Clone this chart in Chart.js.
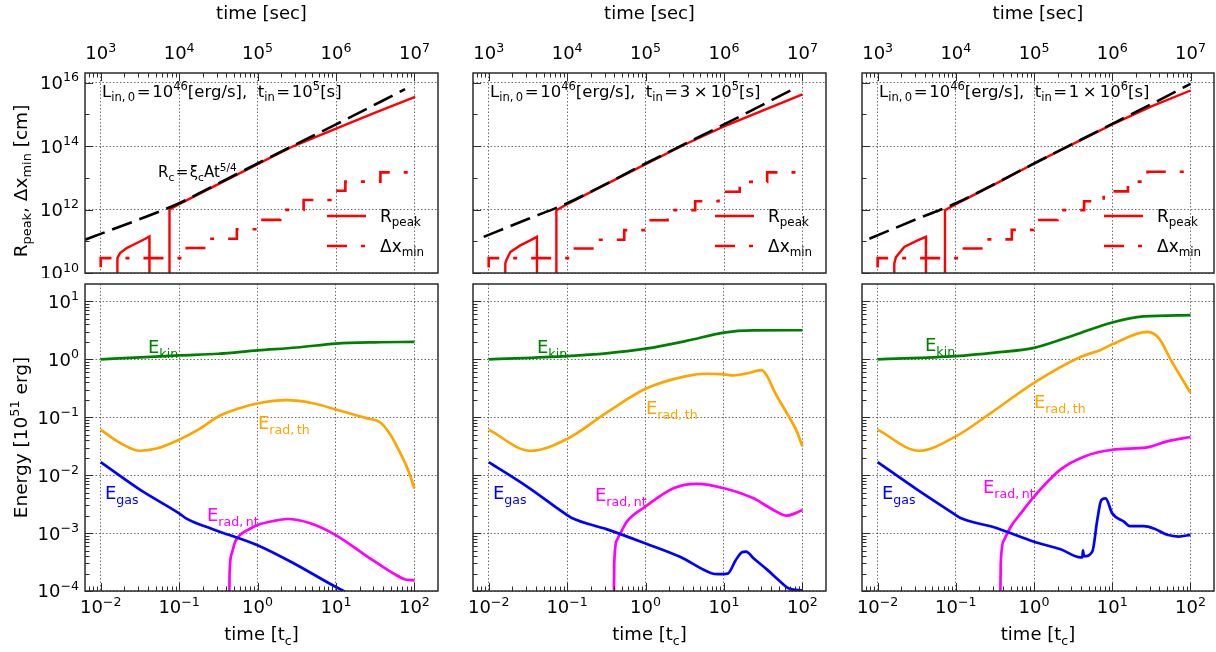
<!DOCTYPE html>
<html>
<head>
<meta charset="utf-8">
<script src="https://cdn.jsdelivr.net/npm/chart.js@4.4.1/dist/chart.umd.min.js"></script>
<style>
  html, body { margin: 0; padding: 0; background: #fff; }
  #page { position: relative; width: 1216px; height: 652px; overflow: hidden; }
  #page canvas { position: absolute; }
</style>
</head>
<body>
<div id="page"></div>
<script>
// Radius / energy evolution, three injection times (t_in = 1e5, 3e5, 1e6 s)

// ── tick label exponents ──
const secTicks = [3, 4, 5, 6, 7];        // time [sec], top axis
const tcTicks  = [-2, -1, 0, 1, 2];      // time [t_c], bottom axis
const rTicks   = [10, 12, 14, 16];       // R_peak, dx_min [cm]
const eTicks   = [-4, -3, -2, -1, 0, 1]; // Energy [1e51 erg]

// ── top row: radius vs time [sec] ──
// R_c = xi_c A t^(5/4)  (black dashed)
const tRc1 = [631, 3162, 10000, 31623, 1e5, 3.16e5, 1e6, 7.59e6];
const rc1  = [1.12e11, 5.01e11, 1.58e12, 6.61e12, 2.82e13, 1.17e14, 4.79e14, 6.17e15];
const tRc2 = [863, 3162, 10000, 1e5, 1e6, 7.31e6];
const rc2  = [1.37e11, 5.01e11, 1.58e12, 2.82e13, 4.79e14, 5.89e15];
const tRc3 = [783, 3162, 10000, 1e5, 1e6, 3.16e6, 1e7];
const rc3  = [1.2e11, 5.01e11, 1.58e12, 2.82e13, 5.01e14, 2.09e15, 9.12e15];

// R_peak (red solid)
const tPeak1 = [1622, 1633, 1766, 2148, 2612, 3508, 4178, 4188, 7516, 7534, 10000, 31623, 1e5, 2.88e5, 1e6, 3.16e6, 1.02e7];
const rPeak1 = [1e9, 2.95e10, 4.27e10, 6.1e10, 7.76e10, 1.12e11, 1.41e11, 1e9, 1e9, 1e12, 1.48e12, 6.31e12, 2.69e13, 1.0e14, 3.55e14, 1.12e15, 3.55e15];
const tPeak2 = [1622, 1629, 1679, 1888, 2529, 3388, 4121, 4130, 7278, 7295, 10000, 31623, 1e5, 3.16e5, 1e6, 3.16e6, 1e7];
const rPeak2 = [1e9, 2.0e10, 2.51e10, 4.57e10, 7.41e10, 1.07e11, 1.38e11, 1e9, 1e9, 9.55e11, 1.48e12, 6.31e12, 2.69e13, 1.12e14, 4.17e14, 1.32e15, 4.27e15];
const tPeak3 = [1622, 1633, 1714, 2188, 3236, 4140, 4150, 7244, 7261, 10000, 31623, 1e5, 3.16e5, 1e6, 3.16e6, 1e7];
const rPeak3 = [1e9, 2.0e10, 3.16e10, 6.61e10, 1.07e11, 1.38e11, 1e9, 1e9, 9.55e11, 1.48e12, 6.31e12, 2.82e13, 1.17e14, 4.79e14, 1.78e15, 5.62e15];

// dx_min (red dash-dot, step)
const tDx1 = [1000, 12531, 24378, 54450, 1e5, 194536, 386367, 847227, 1.315e6, 3.681e6, 6.622e6, 1.009e7];
const dx1  = [1.51e10, 2.95e10, 6.1e10, 1.2e11, 2.4e11, 4.73e11, 9.77e11, 2.0e12, 3.89e12, 7.59e12, 1.48e13, 1.48e13];
const tDx2 = [1000, 12106, 25177, 53456, 1e5, 190546, 429536, 851138, 1.585e6, 3.548e6, 6.637e6, 1e7];
const dx2  = [1.48e10, 2.95e10, 5.89e10, 1.12e11, 2.24e11, 4.57e11, 9.55e11, 1.82e12, 3.63e12, 7.41e12, 1.48e13, 1.48e13];
const tDx3 = [1000, 12162, 25119, 51880, 97724, 199526, 436516, 776247, 1.585e6, 2.818e6, 5.012e6, 1e7];
const dx3  = [1.48e10, 2.95e10, 5.89e10, 1.15e11, 2.29e11, 4.68e11, 9.55e11, 1.82e12, 3.72e12, 7.59e12, 1.55e13, 1.55e13];

// ── bottom row: energies vs time [t_c] ──
const tKin1 = [0.01, 0.0316, 0.1, 0.316, 1, 3.16, 10, 31.6, 100];
const eKin1 = [1.0, 1.08, 1.17, 1.25, 1.43, 1.6, 1.87, 1.97, 2.0];
const tTh1  = [0.01, 0.0178, 0.0316, 0.0513, 0.1, 0.178, 0.324, 0.603, 1, 2.34, 5.25, 10, 25.1, 36.8, 49.4, 66.2, 84.7, 100];
const eTh1  = [0.0611, 0.0359, 0.0264, 0.0288, 0.0410, 0.0617, 0.105, 0.145, 0.173, 0.197, 0.173, 0.136, 0.0955, 0.0813, 0.0501, 0.0240, 0.0115, 0.00589];
const tGas1 = [0.01, 0.0316, 0.1, 0.126, 0.269, 1, 2.88, 10, 100];
const eGas1 = [0.0168, 0.00562, 0.00219, 0.00176, 0.00117, 6.17e-4, 3.02e-4, 1.17e-4, 2.5e-5];
const tNt1  = [0.422, 0.44, 0.47, 0.519, 0.601, 0.767, 1, 1.6, 2.37, 4.7, 9.8, 24.9, 54.5, 76.7, 100];
const eNt1  = [1e-6, 2.0e-4, 4.47e-4, 7.08e-4, 9.33e-4, 1.15e-3, 1.38e-3, 1.62e-3, 1.75e-3, 1.48e-3, 9.33e-4, 3.98e-4, 2.0e-4, 1.58e-4, 1.53e-4];

const tKin2 = [0.01, 0.1, 0.316, 1, 3.31, 10, 23.4, 100];
const eKin2 = [1.0, 1.14, 1.27, 1.53, 2.08, 2.90, 3.16, 3.18];
const tTh2  = [0.01, 0.0339, 0.1, 0.316, 1, 3.31, 6.03, 10, 13.2, 19.5, 30.2, 35.5, 44.9, 63.1, 84.7, 100];
const eTh2  = [0.0611, 0.0264, 0.0421, 0.119, 0.310, 0.514, 0.564, 0.550, 0.528, 0.571, 0.653, 0.513, 0.264, 0.119, 0.0571, 0.0314];
const tGas2 = [0.01, 0.0309, 0.1, 0.115, 0.324, 1, 2.75, 6.76, 8.51, 11.2, 14.1, 17.0, 19.1, 24.0, 35.5, 52.5, 67.6, 100];
const eGas2 = [0.0168, 0.00635, 0.00205, 0.00182, 0.00116, 6.62e-4, 3.89e-4, 2.05e-4, 1.95e-4, 2.0e-4, 3.39e-4, 4.68e-4, 4.79e-4, 3.63e-4, 2.34e-4, 1.45e-4, 1.10e-4, 1.02e-4];
const tNt2  = [0.384, 0.399, 0.432, 0.501, 0.578, 1, 2.28, 4.51, 10, 23.8, 42.7, 63.1, 80.5, 100];
const eNt2  = [1e-6, 2.95e-4, 7.59e-4, 1.12e-3, 1.58e-3, 2.88e-3, 5.96e-3, 7.08e-3, 5.96e-3, 3.98e-3, 2.51e-3, 2.0e-3, 2.19e-3, 2.51e-3];

const tKin3 = [0.01, 0.1, 0.316, 1, 3.24, 10, 25.1, 100];
const eKin3 = [1.0, 1.14, 1.31, 1.58, 2.61, 4.33, 5.50, 5.79];
const tTh3  = [0.01, 0.0339, 0.1, 0.282, 1, 3.98, 7.08, 10, 28.2, 39.8, 55.6, 100];
const eTh3  = [0.0611, 0.0264, 0.0468, 0.119, 0.394, 1.11, 1.45, 1.82, 2.98, 2.28, 1.0, 0.264];
const tGas3 = [0.01, 0.0324, 0.1, 0.115, 0.308, 1, 2.19, 3.94, 4.14, 4.22, 4.35, 5.56, 6.44, 7.24, 8.22, 10, 14.1, 16.8, 25.4, 34.0, 50.4, 71.0, 100];
const eGas3 = [0.0168, 0.00557, 0.00205, 0.00182, 0.00126, 7.08e-4, 5.25e-4, 3.80e-4, 3.80e-4, 5.01e-4, 3.98e-4, 4.79e-4, 1.70e-3, 3.72e-3, 3.98e-3, 2.19e-3, 1.58e-3, 1.32e-3, 1.32e-3, 1.20e-3, 9.33e-4, 8.71e-4, 9.33e-4];
const tNt3  = [0.357, 0.375, 0.414, 0.504, 0.676, 1, 2.19, 4.35, 10, 28.0, 50.4, 100];
const eNt3  = [1e-6, 2.95e-4, 7.59e-4, 1.29e-3, 2.19e-3, 4.27e-3, 0.0126, 0.0209, 0.0275, 0.0302, 0.0384, 0.0457];

// ── look ──
const FONT    = '"DejaVu Sans", sans-serif';
const AXIS    = "#2b2b2b";
const GRID    = "rgba(60,60,60,0.75)";
const RED     = "#ff0000";
const GREEN   = "#008000";
const ORANGE  = "#ffa500";
const BLUE    = "#0000ff";
const MAGENTA = "#ff00ff";
const DASHDOT = [20, 14, 4, 14];

const COLS = [[85, 438], [473, 826], [862, 1214]];
const ROWS = [[73, 273], [284, 591]];

const tinText = [
    [["10", "n"], ["5", "sup"], ["[s]", "n"]],
    [["3\u2009\u00d7\u200910", "n"], ["5", "sup"], ["[s]", "n"]],
    [["1\u2009\u00d7\u200910", "n"], ["6", "sup"], ["[s]", "n"]]
];

// label positions (relative to the plot box): [kin, th, gas, nt]
const eLabelPos = [
    [[63, 63], [173, 139], [20, 209], [122, 231]],
    [[64, 63], [173, 124], [20, 209], [122, 211]],
    [[63, 61], [172, 118], [20, 209], [121, 203]]
];

function pts(xs, ys) { return xs.map(function (x, i) { return { x: x, y: ys[i] }; }); }

function lineDs(xs, ys, color, extra) {
    return Object.assign({
        data: pts(xs, ys), borderColor: color, borderWidth: 2.6,
        pointRadius: 0, fill: false, clip: 0, tension: 0
    }, extra || {});
}

// rich text with sub/superscripts; parts = [[text, 'n'|'sub'|'sup'], ...]
function drawRich(ctx, parts, x, y, size, align) {
    const small = size * 0.7;
    let w = 0;
    parts.forEach(function (p) {
        ctx.font = (p[1] === "n" ? size : small) + "px " + FONT;
        w += ctx.measureText(p[0]).width;
    });
    let cx = align === "center" ? x - w / 2 : align === "right" ? x - w : x;
    const base = y + size * 0.36;
    ctx.textAlign = "left";
    ctx.textBaseline = "alphabetic";
    parts.forEach(function (p) {
        const sz = p[1] === "n" ? size : small;
        ctx.font = sz + "px " + FONT;
        const dy = p[1] === "sup" ? -size * 0.42 : p[1] === "sub" ? size * 0.24 : 0;
        ctx.fillText(p[0], cx, base + dy);
        cx += ctx.measureText(p[0]).width;
    });
    return w;
}

function powLabel(e) { return [["10", "n"], [(e < 0 ? "\u2212" : "") + Math.abs(e), "sup"]]; }

// tick positions: majors at 10^e, minors either 2..9 x 10^e or the skipped decades
function logTicks(min, max, exps, decadeStep) {
    const out = [];
    exps.forEach(function (e) { out.push({ v: Math.pow(10, e), major: true }); });
    const lo = Math.floor(Math.log10(min)), hi = Math.ceil(Math.log10(max));
    for (let e = lo; e <= hi; e++) {
        if (decadeStep === 1) {
            for (let m = 2; m <= 9; m++) {
                const v = m * Math.pow(10, e);
                if (v > min && v < max) out.push({ v: v, major: false });
            }
        } else if (exps.indexOf(e) < 0) {
            const v = Math.pow(10, e);
            if (v > min && v < max) out.push({ v: v, major: false });
        }
    }
    return out;
}

function seg(ctx, x1, y1, x2, y2) { ctx.beginPath(); ctx.moveTo(x1, y1); ctx.lineTo(x2, y2); ctx.stroke(); }

function decoPlugin(cfg) {
    return {
        id: "deco",
        afterDatasetsDraw: function (chart) {
            const ctx = chart.ctx, a = chart.chartArea;
            const xs = chart.scales.x, ys = chart.scales.y;
            ctx.save();

            // ── inward ticks ──
            ctx.strokeStyle = AXIS;
            ctx.lineWidth = 1;
            const xe = cfg.top ? a.top : a.bottom, dir = cfg.top ? 1 : -1;
            logTicks(xs.min, xs.max, cfg.xExps, 1).forEach(function (t) {
                const p = Math.round(xs.getPixelForValue(t.v)) + 0.5;
                seg(ctx, p, xe, p, xe + dir * (t.major ? 8 : 4.5));
            });
            logTicks(ys.min, ys.max, cfg.yExps, cfg.top ? 2 : 1).forEach(function (t) {
                const p = Math.round(ys.getPixelForValue(t.v)) + 0.5;
                seg(ctx, a.left, p, a.left + (t.major ? 8 : 4.5), p);
            });

            // ── frame ──
            ctx.lineWidth = 1.5;
            ctx.strokeRect(a.left, a.top, a.right - a.left, a.bottom - a.top);

            // ── tick labels & axis titles ──
            ctx.fillStyle = "#000";
            cfg.xExps.forEach(function (e) {
                const p = xs.getPixelForValue(Math.pow(10, e));
                drawRich(ctx, powLabel(e), p, cfg.top ? a.top - 20 : a.bottom + 16, 18, "center");
            });
            const mid = (a.left + a.right) / 2;
            if (cfg.top) {
                drawRich(ctx, [["time [sec]", "n"]], mid, a.top - 60, 18, "center");
            } else {
                drawRich(ctx, [["time [t", "n"], ["c", "sub"], ["]", "n"]], mid, a.bottom + 43, 18, "center");
            }
            if (cfg.yLabels) {
                cfg.yExps.forEach(function (e) {
                    const p = ys.getPixelForValue(Math.pow(10, e));
                    drawRich(ctx, powLabel(e), a.left - 6, p, 18, "right");
                });
                ctx.save();
                ctx.translate(20, cfg.top ? (a.top + a.bottom) / 2 + 8 : (a.top + a.bottom) / 2);
                ctx.rotate(-Math.PI / 2);
                drawRich(ctx, cfg.yTitle, 0, 0, 18.5, "center");
                ctx.restore();
            }

            // ── in-panel texts ──
            (cfg.texts || []).forEach(function (t) {
                ctx.fillStyle = t.color || "#000";
                drawRich(ctx, t.parts, a.left + t.x, a.top + t.y, t.size || 18, "left");
            });

            // ── legend (top row) ──
            if (cfg.legend) {
                ctx.strokeStyle = RED;
                ctx.lineWidth = 2.6;
                ctx.lineCap = "butt";
                seg(ctx, a.left + 242, a.top + 143, a.left + 281, a.top + 143);
                ctx.setLineDash(DASHDOT);
                seg(ctx, a.left + 242, a.top + 173, a.left + 281, a.top + 173);
                ctx.setLineDash([]);
                ctx.fillStyle = "#000";
                drawRich(ctx, [["R", "n"], ["peak", "sub"]], a.left + 295, a.top + 143, 17, "left");
                drawRich(ctx, [["\u0394x", "n"], ["min", "sub"]], a.left + 295, a.top + 173, 17, "left");
            }
            ctx.restore();
        }
    };
}

function makeChart(row, col, datasets, cfg, xRange, yRange) {
    const box = COLS[col], rw = ROWS[row];
    const left = col === 0 ? 0 : box[0] - 12;
    const right = col === 2 ? 1216 : box[1] + 2;
    const top = row === 0 ? 0 : 280;
    const bottom = row === 0 ? 278 : 652;

    const canvas = document.createElement("canvas");
    canvas.width = right - left;
    canvas.height = bottom - top;
    canvas.style.left = left + "px";
    canvas.style.top = top + "px";
    document.getElementById("page").appendChild(canvas);

    function axis(min, max, exps, isX) {
        return {
            type: "logarithmic", min: min, max: max,
            ticks: { display: false },
            grid: { color: GRID, lineWidth: 1, drawTicks: false },
            border: { display: false, dash: [1.5, 2] },
            afterBuildTicks: function (s) { s.ticks = exps.map(function (e) { return { value: Math.pow(10, e) }; }); },
            afterFit: function (s) { if (isX) s.height = 0; else s.width = 0; }
        };
    }

    return new Chart(canvas, {
        type: "line",
        data: { datasets: datasets },
        options: {
            responsive: false, animation: false, devicePixelRatio: 1, events: [],
            layout: { padding: { left: box[0] - left, right: right - box[1], top: rw[0] - top, bottom: bottom - rw[1] } },
            plugins: { legend: { display: false }, tooltip: { enabled: false } },
            scales: {
                x: axis(xRange[0], xRange[1], cfg.xExps, true),
                y: axis(yRange[0], yRange[1], cfg.gridY || cfg.yExps, false)
            }
        },
        plugins: [decoPlugin(cfg)]
    });
}

// ── BUILD ──
const topSets = [
    [tRc1, rc1, tPeak1, rPeak1, tDx1, dx1],
    [tRc2, rc2, tPeak2, rPeak2, tDx2, dx2],
    [tRc3, rc3, tPeak3, rPeak3, tDx3, dx3]
];
const botSets = [
    [tKin1, eKin1, tTh1, eTh1, tGas1, eGas1, tNt1, eNt1],
    [tKin2, eKin2, tTh2, eTh2, tGas2, eGas2, tNt2, eNt2],
    [tKin3, eKin3, tTh3, eTh3, tGas3, eGas3, tNt3, eNt3]
];

for (let c = 0; c < 3; c++) {
    const s = topSets[c];
    const texts = [{
        parts: [["L", "n"], ["in,\u20090", "sub"], ["\u200a=\u200a10", "n"], ["46", "sup"], ["[erg/s],  t", "n"], ["in", "sub"], ["\u200a=\u200a", "n"]].concat(tinText[c]),
        x: 17, y: 18, size: 16.5
    }];
    if (c === 0) {
        texts.push({ parts: [["R", "n"], ["c", "sub"], ["\u200a=\u200a\u03be", "n"], ["c", "sub"], ["At", "n"], ["5/4", "sup"]], x: 73, y: 99, size: 15 });
    }
    makeChart(0, c, [
        lineDs(s[0], s[1], "#000", { borderDash: [21, 8], borderWidth: 2.6, cubicInterpolationMode: "monotone" }),
        lineDs(s[2], s[3], RED, { borderWidth: 2.4 }),
        lineDs(s[4], s[5], RED, { borderWidth: 2.6, stepped: "after", borderDash: DASHDOT })
    ], {
        top: true, xExps: secTicks, yExps: rTicks, yLabels: c === 0, legend: true, texts: texts,
        yTitle: [["R", "n"], ["peak", "sub"], [", \u0394x", "n"], ["min", "sub"], [" [cm]", "n"]]
    }, [631, 1.995e7], [1e10, 2.0e16]);

    const b = botSets[c], pos = eLabelPos[c];
    const smooth = { cubicInterpolationMode: "monotone", borderWidth: 2.7 };
    makeChart(1, c, [
        lineDs(b[0], b[1], GREEN, smooth),
        lineDs(b[2], b[3], ORANGE, smooth),
        lineDs(b[4], b[5], BLUE, smooth),
        lineDs(b[6], b[7], MAGENTA, smooth)
    ], {
        top: false, xExps: tcTicks, yExps: eTicks, yLabels: c === 0,
        yTitle: [["Energy [10", "n"], ["51", "sup"], [" erg]", "n"]],
        texts: [
            { parts: [["E", "n"], ["kin", "sub"]], color: GREEN, x: pos[0][0], y: pos[0][1] },
            { parts: [["E", "n"], ["rad,\u2009th", "sub"]], color: ORANGE, x: pos[1][0], y: pos[1][1] },
            { parts: [["E", "n"], ["gas", "sub"]], color: BLUE, x: pos[2][0], y: pos[2][1] },
            { parts: [["E", "n"], ["rad,\u2009nt", "sub"]], color: MAGENTA, x: pos[3][0], y: pos[3][1] }
        ]
    }, [0.00631, 200], [1e-4, 20]);
}
</script>
</body>
</html>
